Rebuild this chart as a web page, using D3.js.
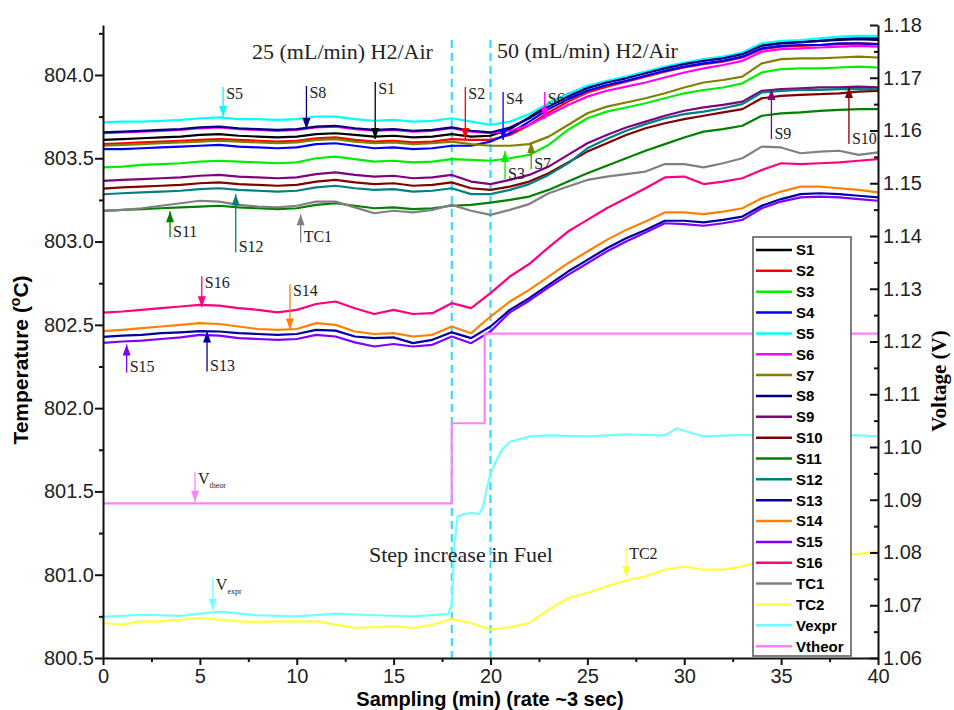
<!DOCTYPE html>
<html>
	<head>
		<meta http-equiv="Content-Type" content="text/html;charset=utf-8"/>
		<title>Temperature and voltage, step increase in fuel</title>
		<script src="https://d3js.org/d3.v7.min.js"></script>
		<style type="text/css">

			body {
				margin: 0;
				background: #fff;
			}

			.axis path, .axis line {
				stroke: #111;
				stroke-width: 2;
			}

			.axis text {
				font-family: "Liberation Sans", Arial, sans-serif;
				font-size: 20px;
				fill: #222;
			}

			.series {
				fill: none;
				stroke-width: 2.2;
				stroke-linejoin: round;
			}

			.note {
				font-family: "Liberation Serif", "Times New Roman", serif;
				fill: #222;
			}

		</style>
	</head>
	<body>
		<script type="text/javascript">

			//Sampling time (min)
			var minutes = [0,1,2,3,4,5,6,7,8,9,10,11,12,13,14,15,16,17,18,19,20,
				21,22,23,24,25,26,27,28,29,30,31,32,33,34,35,36,37,38,39,40];

			//Temperatures (deg C), one value per minute
			var s1 = [803.61,803.615,803.62,803.625,803.63,803.64,803.645,803.635,803.63,803.625,803.63,803.645,803.65,803.64,803.63,803.635,803.625,803.63,803.645,803.63,803.635,
				803.675,803.745,803.83,803.885,803.93,803.96,803.985,804.015,804.045,804.07,804.09,804.105,804.13,804.18,804.195,804.2,804.205,804.21,804.215,804.21];
			var s2 = [803.585,803.59,803.595,803.6,803.605,803.61,803.615,803.61,803.605,803.6,803.605,803.62,803.625,803.61,803.6,803.605,803.595,803.6,803.615,803.61,803.61,
				803.64,803.7,803.775,803.84,803.895,803.93,803.96,803.99,804.02,804.045,804.065,804.08,804.105,804.155,804.17,804.175,804.18,804.185,804.19,804.185];
			var s3 = [803.445,803.45,803.46,803.465,803.47,803.48,803.485,803.48,803.475,803.47,803.475,803.5,803.51,803.495,803.48,803.485,803.475,803.48,803.495,803.49,803.485,
				803.5,803.52,803.58,803.67,803.74,803.78,803.805,803.83,803.86,803.89,803.91,803.925,803.95,804.015,804.035,804.04,804.04,804.045,804.05,804.045];
			var s4 = [803.555,803.555,803.56,803.565,803.57,803.575,803.58,803.57,803.565,803.56,803.565,803.585,803.59,803.575,803.56,803.565,803.555,803.56,803.575,803.575,803.6,
				803.65,803.72,803.795,803.855,803.905,803.94,803.965,803.995,804.025,804.05,804.07,804.085,804.11,804.16,804.175,804.18,804.18,804.19,804.19,804.185];
			var s5 = [803.715,803.72,803.72,803.725,803.73,803.74,803.745,803.735,803.735,803.73,803.735,803.75,803.75,803.735,803.725,803.73,803.72,803.725,803.74,803.72,803.7,
				803.72,803.765,803.83,803.885,803.935,803.965,803.99,804.02,804.05,804.075,804.095,804.11,804.135,804.19,804.205,804.21,804.22,804.23,804.235,804.235];
			var s6 = [803.65,803.655,803.66,803.665,803.67,803.68,803.685,803.675,803.67,803.665,803.67,803.685,803.69,803.675,803.665,803.67,803.66,803.665,803.68,803.66,803.65,
				803.665,803.7,803.76,803.82,803.87,803.905,803.93,803.955,803.985,804.015,804.04,804.06,804.085,804.14,804.155,804.16,804.165,804.17,804.175,804.17];
			var s7 = [803.575,803.58,803.585,803.59,803.595,803.6,803.605,803.6,803.595,803.59,803.595,803.61,803.615,803.6,803.59,803.595,803.585,803.59,803.6,803.585,803.575,
				803.575,803.585,803.63,803.7,803.77,803.81,803.835,803.86,803.89,803.925,803.955,803.97,803.99,804.07,804.095,804.1,804.1,804.105,804.11,804.105];
			var s8 = [803.655,803.66,803.665,803.67,803.675,803.685,803.69,803.68,803.675,803.67,803.675,803.69,803.695,803.68,803.67,803.675,803.665,803.67,803.685,803.665,803.655,
				803.685,803.74,803.81,803.87,803.92,803.955,803.98,804.01,804.04,804.065,804.085,804.1,804.125,804.175,804.19,804.195,804.205,804.215,804.22,804.22];
			var s9 = [803.364,803.37,803.375,803.38,803.385,803.395,803.4,803.39,803.385,803.38,803.385,803.405,803.415,803.4,803.39,803.395,803.38,803.385,803.4,803.36,803.345,
				803.37,803.4,803.45,803.52,803.59,803.64,803.685,803.72,803.755,803.785,803.805,803.82,803.84,803.905,803.915,803.92,803.925,803.925,803.93,803.925];
			var s10 = [803.318,803.325,803.33,803.335,803.34,803.35,803.355,803.345,803.34,803.335,803.34,803.36,803.37,803.355,803.345,803.35,803.335,803.34,803.355,803.32,803.31,
				803.33,803.36,803.41,803.475,803.54,803.59,803.64,803.68,803.71,803.735,803.755,803.775,803.795,803.86,803.875,803.88,803.885,803.89,803.9,803.905];
			var s11 = [803.184,803.19,803.195,803.2,803.205,803.21,803.215,803.205,803.2,803.195,803.2,803.22,803.23,803.215,803.2,803.205,803.195,803.2,803.215,803.22,803.234,
				803.25,803.27,803.31,803.36,803.41,803.455,803.5,803.545,803.585,803.625,803.66,803.675,803.695,803.755,803.77,803.775,803.785,803.79,803.795,803.795];
			var s12 = [803.284,803.29,803.295,803.3,803.305,803.315,803.32,803.31,803.305,803.3,803.305,803.325,803.335,803.32,803.31,803.315,803.3,803.305,803.32,803.285,803.285,
				803.31,803.345,803.4,803.47,803.56,803.615,803.665,803.705,803.74,803.765,803.78,803.8,803.825,803.895,803.905,803.91,803.91,803.915,803.915,803.915];
			var s13 = [802.428,802.435,802.44,802.45,802.455,802.462,802.46,802.45,802.445,802.44,802.445,802.47,802.465,802.43,802.42,802.425,802.39,802.41,802.455,802.42,802.49,
				802.59,802.66,802.74,802.82,802.89,802.96,803.02,803.07,803.125,803.125,803.115,803.13,803.15,803.215,803.255,803.285,803.29,803.285,803.275,803.265];
			var s14 = [802.462,802.47,802.48,802.49,802.5,802.51,802.505,802.49,802.475,802.47,802.475,802.51,802.5,802.46,802.445,802.45,802.43,802.44,802.49,802.45,802.55,
				802.64,802.71,802.79,802.87,802.94,803.01,803.07,803.12,803.175,803.175,803.165,803.18,803.2,803.26,803.3,803.33,803.33,803.32,803.31,803.295];
			var s15 = [802.392,802.4,802.405,802.415,802.425,802.44,802.435,802.42,802.415,802.41,802.415,802.44,802.43,802.395,802.37,802.385,802.37,802.38,802.43,802.39,802.46,
				802.575,802.645,802.725,802.8,802.87,802.94,803.0,803.055,803.11,803.105,803.095,803.11,803.13,803.2,803.24,803.265,803.27,803.265,803.255,803.245];
			var s16 = [802.573,802.58,802.59,802.6,802.61,802.62,802.615,802.6,802.59,802.575,802.59,802.625,802.64,802.6,802.565,802.59,802.565,802.57,802.63,802.6,802.69,
				802.79,802.865,802.965,803.06,803.13,803.2,803.26,803.32,803.385,803.39,803.345,803.36,803.38,803.43,803.47,803.465,803.47,803.475,803.485,803.495];
			var tc1 = [803.184,803.19,803.2,803.215,803.23,803.245,803.24,803.22,803.21,803.205,803.215,803.24,803.24,803.205,803.17,803.185,803.175,803.19,803.22,803.185,803.16,
				803.19,803.225,803.29,803.33,803.37,803.39,803.405,803.42,803.465,803.465,803.445,803.47,803.5,803.57,803.565,803.53,803.54,803.545,803.52,803.535];
			var tc2 = [800.71,800.7,800.72,800.72,800.73,800.74,800.73,800.72,800.715,800.72,800.72,800.72,800.7,800.68,800.685,800.69,800.68,800.7,800.735,800.71,800.67,
				800.685,800.71,800.79,800.86,800.89,800.93,800.965,800.99,801.03,801.05,801.03,801.03,801.05,801.08,801.1,801.11,801.11,801.12,801.125,801.14];

			//Voltages (V), measured and theoretical
			var vexprTime = [0,2,4,6,8,10,12,14,16,17.8,18.0,18.15,18.3,18.6,19.0,19.4,19.6,19.8,20.0,20.3,20.6,21.0,21.5,22,23,25,27,29,29.6,31,33,35,37,39,40];
			var vexprVolts = [1.0678,1.0682,1.068,1.0688,1.0681,1.0679,1.0684,1.0681,1.0679,1.0683,1.07,1.082,1.0868,1.0872,1.0875,1.0873,1.0885,1.092,1.095,1.0975,
				1.0995,1.101,1.1015,1.102,1.1022,1.102,1.1024,1.1022,1.1035,1.102,1.1023,1.1021,1.1023,1.1022,1.102];
			var vtheorTime = [0,18,18,19.7,19.7,40];
			var vtheorVolts = [1.0893,1.0893,1.1045,1.1045,1.1215,1.1215];

			//Tick labels
			var timeTicks = [0,5,10,15,20,25,30,35,40];
			var tempTicks = [800.5,801.0,801.5,802.0,802.5,803.0,803.5,804.0];
			var voltTicks = [1.06,1.07,1.08,1.09,1.10,1.11,1.12,1.13,1.14,1.15,1.16,1.17,1.18];

			//Step changes in fuel (min)
			var stepTimes = [18, 20];

			//Arrow notes: label, time, value at tip, value at tail, axis
			var notes = [
				["S5", 6.2, 803.747, 803.928, "T"],
				["S8", 10.5, 803.675, 803.934, "T"],
				["S1", 14.05, 803.615, 803.958, "T"],
				["S2", 18.7, 803.615, 803.928, "T"],
				["S4", 20.65, 803.609, 803.898, "T"],
				["S6", 22.8, 803.735, 803.898, "T"],
				["S3", 20.75, 803.543, 803.374, "T"],
				["S7", 22.1, 803.597, 803.434, "T"],
				["S9", 34.5, 803.916, 803.615, "T"],
				["S10", 38.5, 803.928, 803.585, "T"],
				["S11", 3.46, 803.182, 803.026, "T"],
				["S12", 6.85, 803.284, 802.935, "T"],
				["TC1", 10.2, 803.164, 802.995, "T"],
				["S16", 5.1, 802.605, 802.791, "T"],
				["S14", 9.65, 802.472, 802.743, "T"],
				["S15", 1.22, 802.382, 802.214, "T"],
				["S13", 5.37, 802.46, 802.22, "T"],
				["Vtheor", 4.75, 1.0896, 1.0953, "V"],
				["Vexpr", 5.67, 1.0691, 1.0752, "V"],
				["TC2", 27.0, 800.987, 801.167, "T"]
			];

			//Series list in legend order
			var series = [
				{ name: "S1", values: s1, color: "#000000" },
				{ name: "S2", values: s2, color: "#ff0000" },
				{ name: "S3", values: s3, color: "#00ee00" },
				{ name: "S4", values: s4, color: "#0000ff" },
				{ name: "S5", values: s5, color: "#00ffff" },
				{ name: "S6", values: s6, color: "#ff00ff" },
				{ name: "S7", values: s7, color: "#808000" },
				{ name: "S8", values: s8, color: "#000080" },
				{ name: "S9", values: s9, color: "#800080" },
				{ name: "S10", values: s10, color: "#800000" },
				{ name: "S11", values: s11, color: "#008000" },
				{ name: "S12", values: s12, color: "#008080" },
				{ name: "S13", values: s13, color: "#0000a0" },
				{ name: "S14", values: s14, color: "#ff8000" },
				{ name: "S15", values: s15, color: "#8000ff" },
				{ name: "S16", values: s16, color: "#ff0080" },
				{ name: "TC1", values: tc1, color: "#808080" },
				{ name: "TC2", values: tc2, color: "#ffff40" },
				{ name: "Vexpr", time: vexprTime, values: vexprVolts, color: "#70ffff", volt: true },
				{ name: "Vtheor", time: vtheorTime, values: vtheorVolts, color: "#ff80ff", volt: true }
			];
			var colorOf = {};
			series.forEach(function(s) { colorOf[s.name] = s.color; });


			var w = 954,
				h = 710;

			var x = d3.scaleLinear().domain([0, 40]).range([103, 878]);
			var yT = d3.scaleLinear().domain([800.5, 804.3]).range([658, 25]);
			var yV = d3.scaleLinear().domain([1.06, 1.18]).range([658, 25]);

			var svg = d3.select("body").append("svg")
						.attr("width", w)
						.attr("height", h);


			//Dashed lines at the fuel steps
			svg.selectAll("line.step")
				.data(stepTimes)
				.enter()
				.append("line")
				.attr("class", "step")
				.attr("x1", function(d) { return x(d); })
				.attr("x2", function(d) { return x(d); })
				.attr("y1", 40)
				.attr("y2", 658)
				.attr("stroke", "#22ddff")
				.attr("stroke-width", 2)
				.attr("stroke-dasharray", "8,5");


			//Data lines
			svg.selectAll("path.series")
				.data(series)
				.enter()
				.append("path")
				.attr("class", "series")
				.attr("stroke", function(d) { return d.color; })
				.attr("d", function(s) {
					var t = s.time || minutes;
					var y = s.volt ? yV : yT;
					return d3.line()
						.x(function(d, i) { return x(t[i]); })
						.y(function(d) { return y(d); })(s.values);
				});


			//Axes
			svg.append("g")
				.attr("class", "axis")
				.attr("transform", "translate(0,658)")
				.call(d3.axisBottom(x).tickValues(timeTicks).tickSize(7).tickSizeOuter(0).tickPadding(4));
			svg.append("g")
				.attr("class", "axis")
				.attr("transform", "translate(0,658)")
				.call(d3.axisBottom(x).tickValues(d3.range(2.5, 40, 5)).tickSize(4).tickFormat(""))
				.select(".domain").remove();

			svg.append("g")
				.attr("class", "axis")
				.attr("transform", "translate(103,0)")
				.call(d3.axisLeft(yT).tickValues(tempTicks).tickSize(8).tickSizeOuter(0).tickPadding(1)
					.tickFormat(d3.format(".1f")));
			svg.append("g")
				.attr("class", "axis")
				.attr("transform", "translate(103,0)")
				.call(d3.axisLeft(yT).tickValues(d3.range(800.75, 804.3, 0.5)).tickSize(4).tickFormat(""))
				.select(".domain").remove();

			svg.append("g")
				.attr("class", "axis")
				.attr("transform", "translate(878,0)")
				.call(d3.axisRight(yV).tickValues(voltTicks).tickSize(-8).tickSizeOuter(0).tickPadding(5)
					.tickFormat(d3.format(".2f")));
			svg.append("g")
				.attr("class", "axis")
				.attr("transform", "translate(878,0)")
				.call(d3.axisRight(yV).tickValues(d3.range(1.065, 1.18, 0.01)).tickSize(-4).tickFormat(""))
				.select(".domain").remove();


			//Axis titles
			var tTitle = svg.append("text")
				.attr("transform", "translate(28,360) rotate(-90)")
				.attr("text-anchor", "middle")
				.style("font-family", "'Liberation Sans', Arial, sans-serif")
				.style("font-size", "21px")
				.style("font-weight", "bold")
				.text("Temperature (");
			tTitle.append("tspan").attr("dy", -8).style("font-size", "14px").text("o");
			tTitle.append("tspan").attr("dy", 8).text("C)");

			svg.append("text")
				.attr("transform", "translate(946,381) rotate(-90)")
				.attr("text-anchor", "middle")
				.style("font-family", "'Liberation Serif', 'Times New Roman', serif")
				.style("font-size", "21px")
				.style("font-weight", "bold")
				.text("Voltage (V)");

			svg.append("text")
				.attr("x", 490)
				.attr("y", 706)
				.attr("text-anchor", "middle")
				.style("font-family", "'Liberation Sans', Arial, sans-serif")
				.style("font-size", "20px")
				.style("font-weight", "bold")
				.text("Sampling (min) (rate ~3 sec)");


			//Text notes on the plot
			svg.append("text").attr("class", "note").attr("x", 252).attr("y", 59)
				.style("font-size", "22px").text("25 (mL/min) H2/Air");
			svg.append("text").attr("class", "note").attr("x", 497).attr("y", 58)
				.style("font-size", "22px").text("50 (mL/min) H2/Air");
			svg.append("text").attr("class", "note").attr("x", 369).attr("y", 562)
				.style("font-size", "22px").text("Step increase in Fuel");


			//Arrows pointing at the curves
			var arrows = svg.selectAll("g.arrow")
				.data(notes)
				.enter()
				.append("g")
				.attr("class", "arrow");

			function yOf(d, v) { return d[4] == "V" ? yV(v) : yT(v); }

			arrows.append("line")
				.attr("x1", function(d) { return x(d[1]); })
				.attr("x2", function(d) { return x(d[1]); })
				.attr("y1", function(d) { return yOf(d, d[3]); })
				.attr("y2", function(d) { return yOf(d, d[2]); })
				.attr("stroke", function(d) { return colorOf[d[0]]; })
				.attr("stroke-width", 1.3);

			arrows.append("path")
				.attr("fill", function(d) { return colorOf[d[0]]; })
				.attr("d", function(d) {
					var px = x(d[1]),
						tip = yOf(d, d[2]),
						k = yOf(d, d[3]) < tip ? -1 : 1;
					return "M" + px + "," + tip + "L" + (px - 4) + "," + (tip + k * 11) + "L" + (px + 4) + "," + (tip + k * 11) + "Z";
				});

			arrows.each(function(d) {
				var g = d3.select(this),
					px = x(d[1]) + 3,
					tail = yOf(d, d[3]),
					down = tail < yOf(d, d[2]);
				var t = g.append("text")
					.attr("class", "note")
					.attr("x", px)
					.attr("y", down ? tail + 12 : tail)
					.style("font-size", "16px");
				if (d[0] == "Vtheor" || d[0] == "Vexpr") {
					t.text("V");
					t.append("tspan").attr("dy", 4).style("font-size", "8px").text(d[0].slice(1));
				} else {
					t.text(d[0]);
				}
			});


			//Legend
			var legend = svg.append("g").attr("transform", "translate(753,237)");
			legend.append("rect")
				.attr("width", 98)
				.attr("height", 419)
				.attr("fill", "#fff")
				.attr("stroke", "#555")
				.attr("stroke-width", 1.5);

			var rows = legend.selectAll("g.row")
				.data(series)
				.enter()
				.append("g")
				.attr("class", "row")
				.attr("transform", function(d, i) { return "translate(0," + (13 + i * 20.85) + ")"; });
			rows.append("line")
				.attr("x1", 3)
				.attr("x2", 39)
				.attr("stroke", function(d) { return d.color; })
				.attr("stroke-width", 2.5);
			rows.append("text")
				.attr("x", 43)
				.attr("dy", "0.36em")
				.style("font-family", "'Liberation Sans', Arial, sans-serif")
				.style("font-size", "15px")
				.style("font-weight", "bold")
				.text(function(d) { return d.name; });

		</script>
	</body>
</html>
